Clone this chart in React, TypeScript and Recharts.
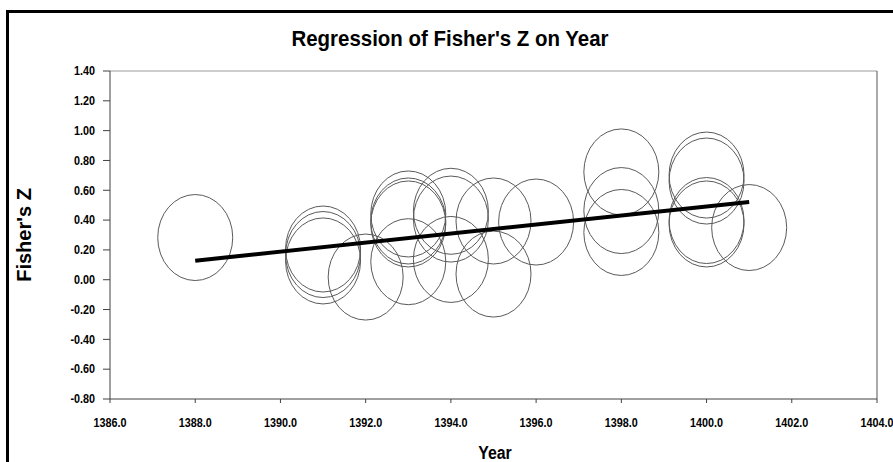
import { ScatterChart, Scatter, XAxis, YAxis, ReferenceLine } from "recharts";

// Fisher's Z per year
const years = [
  1388, 1391, 1391, 1391, 1392, 1393, 1393, 1393, 1393, 1394, 1394, 1394,
  1395, 1395, 1396, 1398, 1398, 1398, 1400, 1400, 1400, 1400, 1401,
];
const fisherZ = [
  0.283, 0.206, 0.169, 0.126, 0.018, 0.441, 0.394, 0.374, 0.121, 0.459, 0.407,
  0.136, 0.394, 0.038, 0.387, 0.723, 0.464, 0.317, 0.702, 0.662, 0.397, 0.374,
  0.35,
];

// fitted line end points
const fitYears = [1388, 1401];
const fitZ = [0.128, 0.521];

const xTicks = [1386, 1388, 1390, 1392, 1394, 1396, 1398, 1400, 1402, 1404];
const yTicks = [-0.8, -0.6, -0.4, -0.2, 0, 0.2, 0.4, 0.6, 0.8, 1.0, 1.2, 1.4];

const points = years.map((year, i) => ({ year, z: fisherZ[i] }));
const fitLine = fitYears.map((year, i) => ({ year, z: fitZ[i] }));

const FONT = "'Liberation Sans', Arial, sans-serif";
const NARROW = 0.9;

const Bubble = (props: any) => (
  <ellipse
    cx={props.cx}
    cy={props.cy}
    rx={37.5}
    ry={43}
    fill="none"
    stroke="#5a5a5a"
    strokeWidth={1}
  />
);

const XTick = ({ x, y, payload }: any) => (
  <text
    transform={`translate(${x},${y}) scale(${NARROW},1)`}
    dy="0.71em"
    textAnchor="middle"
    fontFamily={FONT}
    fontSize={12}
    fontWeight="bold"
    fill="#000"
  >
    {Number(payload.value).toFixed(1)}
  </text>
);

const YTick = ({ x, y, payload }: any) => (
  <text
    transform={`translate(${x},${y}) scale(${NARROW},1)`}
    dy="0.355em"
    textAnchor="end"
    fontFamily={FONT}
    fontSize={12}
    fontWeight="bold"
    fill="#000"
  >
    {Number(payload.value).toFixed(2)}
  </text>
);

export default function App() {
  return (
    <div
      style={{
        position: "absolute",
        left: 0,
        top: 0,
        width: 893,
        height: 462,
        overflow: "hidden",
        background: "#fff",
        fontFamily: FONT,
      }}
    >
      <div
        style={{
          position: "absolute",
          left: 6,
          top: 10,
          width: 1000,
          height: 600,
          border: "3px solid #000",
        }}
      />
      <div
        style={{
          position: "absolute",
          left: 0,
          top: 28,
          width: 900,
          textAlign: "center",
          fontWeight: "bold",
          fontSize: 22,
          lineHeight: "22px",
          color: "#000",
          transform: "scaleX(0.93)",
        }}
      >
        Regression of Fisher's Z on Year
      </div>
      <div
        style={{
          position: "absolute",
          left: 395,
          top: 444,
          width: 200,
          textAlign: "center",
          fontWeight: "bold",
          fontSize: 18,
          lineHeight: "18px",
          color: "#000",
          transform: "scaleX(0.88)",
        }}
      >
        Year
      </div>
      <div style={{ position: "absolute", left: 0, top: 0 }}>
        <ScatterChart
          width={893}
          height={462}
          margin={{ top: 71, right: 16, left: 50, bottom: 33 }}
        >
          <XAxis
            type="number"
            dataKey="year"
            domain={[1386, 1404]}
            ticks={xTicks}
            stroke="#404040"
            tickSize={4}
            tickMargin={15}
            tick={<XTick />}
            height={30}
          />
          <YAxis
            type="number"
            dataKey="z"
            domain={[-0.8, 1.4]}
            ticks={yTicks}
            stroke="#404040"
            width={60}
            tickSize={7}
            tickMargin={8}
            tick={<YTick />}
            label={{
              value: "Fisher's Z",
              angle: -90,
              position: "center",
              dx: -56,
              fill: "#000",
              fontSize: 20,
              fontWeight: "bold",
              fontFamily: FONT,
            }}
          />
          <ReferenceLine y={1.4} stroke="#9a9a9a" strokeWidth={1} />
          <ReferenceLine x={1404} stroke="#555" strokeWidth={1} />
          <Scatter
            data={points}
            shape={<Bubble />}
            isAnimationActive={false}
          />
          <Scatter
            data={fitLine}
            shape={() => <g />}
            line={{ stroke: "#000", strokeWidth: 4 }}
            lineType="joint"
            isAnimationActive={false}
          />
        </ScatterChart>
      </div>
    </div>
  );
}
